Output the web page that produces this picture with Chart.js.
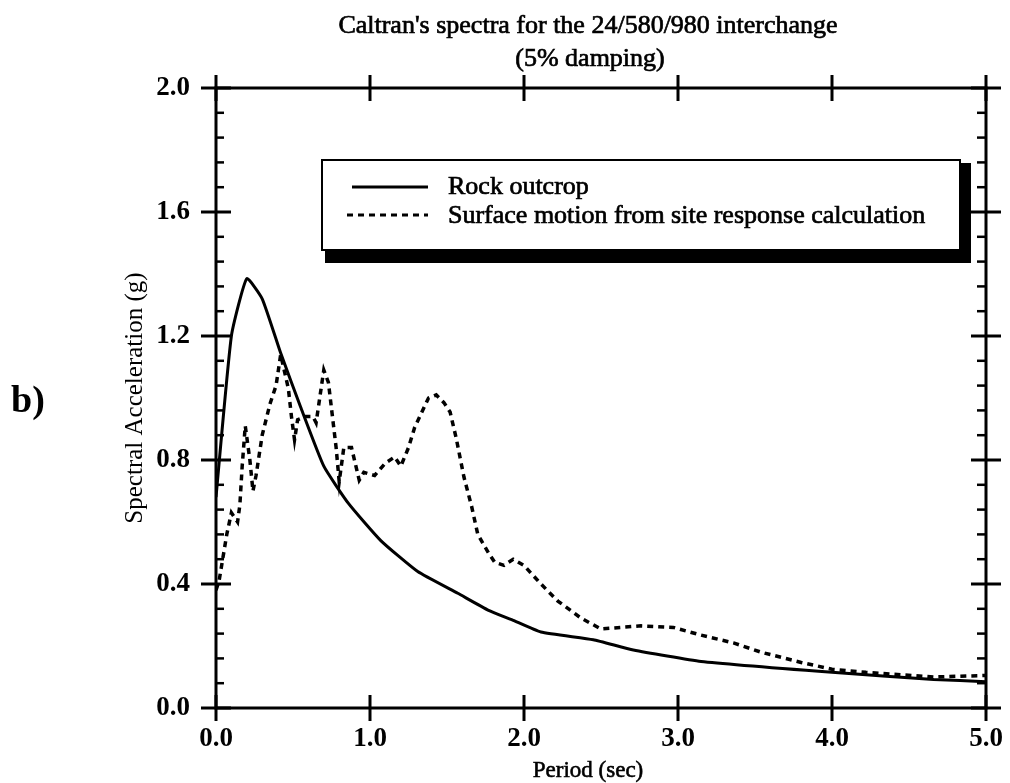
<!DOCTYPE html>
<html><head><meta charset="utf-8">
<script src="https://cdn.jsdelivr.net/npm/chart.js@4.4.0/dist/chart.umd.min.js"></script>
<style>html,body{margin:0;padding:0;background:#fff}canvas{display:block}</style>
</head><body>
<canvas id="c" width="1010" height="783"></canvas>
<script>
const titleLines = ["Caltran's spectra for the 24/580/980 interchange", "(5% damping)"];
const xTitle = "Period (sec)";
const yTitle = "Spectral Acceleration (g)";
const panelLabel = "b)";
const seriesNames = ["Rock outcrop", "Surface motion from site response calculation"];
const xTickValues = [0, 1, 2, 3, 4, 5];
const yTickValues = [0, 0.4, 0.8, 1.2, 1.6, 2.0];
const yMinorStep = 0.08;

const rockPeriods = [0, 0.1, 0.2, 0.3, 0.42, 0.55, 0.7, 0.86, 1.07, 1.31, 1.57, 1.77, 1.92, 2.11, 2.45, 2.71, 3.15, 4.0, 4.66, 5.0];
const rockSa      = [0.68, 1.2, 1.385, 1.32, 1.145, 0.97, 0.78, 0.66, 0.54, 0.44, 0.37, 0.315, 0.285, 0.245, 0.22, 0.187, 0.15, 0.115, 0.092, 0.085];

const surfPeriods = [0.0, 0.02, 0.07, 0.10, 0.14, 0.155, 0.17, 0.19, 0.22, 0.24, 0.26, 0.30, 0.35, 0.39, 0.42, 0.47, 0.49, 0.51, 0.53, 0.58, 0.63, 0.65, 0.70, 0.73, 0.78, 0.80, 0.83, 0.88, 0.93, 0.96, 1.03, 1.10, 1.16, 1.20, 1.25, 1.29, 1.38, 1.43, 1.48, 1.52, 1.56, 1.61, 1.66, 1.70, 1.77, 1.81, 1.87, 1.93, 2.0, 2.11, 2.22, 2.37, 2.5, 2.63, 2.76, 2.97, 3.15, 3.36, 3.54, 3.8, 4.0, 4.22, 4.66, 5.0];
const surfSa      = [0.38, 0.41, 0.56, 0.63, 0.60, 0.655, 0.78, 0.91, 0.80, 0.70, 0.75, 0.88, 0.98, 1.04, 1.14, 1.03, 0.94, 0.865, 0.93, 0.94, 0.94, 0.92, 1.09, 1.05, 0.84, 0.73, 0.84, 0.84, 0.735, 0.76, 0.75, 0.79, 0.81, 0.78, 0.84, 0.905, 1.0, 1.01, 0.985, 0.955, 0.87, 0.745, 0.65, 0.56, 0.50, 0.47, 0.46, 0.48, 0.46, 0.40, 0.345, 0.29, 0.255, 0.26, 0.265, 0.26, 0.235, 0.21, 0.18, 0.147, 0.125, 0.115, 0.10, 0.105];

const SERIF = "'Liberation Serif', 'DejaVu Serif', serif";

function line(ctx, x1, y1, x2, y2) { ctx.beginPath(); ctx.moveTo(x1, y1); ctx.lineTo(x2, y2); ctx.stroke(); }
function heavyText(ctx, t, x, y, w) { ctx.lineWidth = w; ctx.strokeText(t, x, y); ctx.fillText(t, x, y); }

const decor = {
  id: 'decor',
  beforeDraw(chart) {
    const c = chart.ctx; c.save(); c.fillStyle = '#fff'; c.fillRect(0, 0, chart.width, chart.height); c.restore();
  },
  afterDatasetsDraw(chart) {
    const { ctx, chartArea: a, scales: { x, y } } = chart;
    ctx.save();
    ctx.strokeStyle = '#000'; ctx.lineWidth = 3; ctx.lineCap = 'butt';
    ctx.beginPath(); ctx.rect(a.left, a.top, a.right - a.left, a.bottom - a.top); ctx.stroke();
    xTickValues.forEach(v => {
      const px = x.getPixelForValue(v);
      line(ctx, px, a.bottom - 13, px, a.bottom + 13);
      line(ctx, px, a.top - 13, px, a.top + 13);
    });
    yTickValues.forEach(v => {
      const py = y.getPixelForValue(v);
      line(ctx, a.left - 15, py, a.left + 15, py);
      line(ctx, a.right - 15, py, a.right + 15, py);
    });
    ctx.lineWidth = 2.5;
    const n = Math.round((y.max - y.min) / yMinorStep);
    for (let i = 1; i < n; i++) {
      if (i % 5 === 0) continue;
      const py = y.getPixelForValue(y.min + i * yMinorStep);
      line(ctx, a.left, py, a.left + 8, py);
      line(ctx, a.right - 9, py, a.right, py);
    }
    ctx.restore();
  },
  afterDraw(chart) {
    const { ctx } = chart;
    ctx.save();
    // legend box with shadow
    const bx = 322, by = 160, bw = 638, bh = 90;
    ctx.fillStyle = '#000';
    ctx.fillRect(bx + 3, by + 3, bw + 8, bh + 10);
    ctx.fillStyle = '#fff';
    ctx.fillRect(bx, by, bw, bh);
    ctx.strokeStyle = '#000'; ctx.lineWidth = 2;
    ctx.strokeRect(bx, by, bw, bh);
    const ds = chart.data.datasets;
    ctx.lineWidth = 3;
    ctx.setLineDash([]);
    line(ctx, 352, 187, 428, 187);
    ctx.setLineDash([6, 5]);
    line(ctx, 347, 215, 428, 215);
    ctx.setLineDash([]);
    ctx.fillStyle = '#000'; ctx.strokeStyle = '#000';
    ctx.font = "26px " + SERIF;
    ctx.textAlign = 'left'; ctx.textBaseline = 'alphabetic';
    heavyText(ctx, ds[0].label, 448, 194, 0.7);
    heavyText(ctx, ds[1].label, 448, 223, 0.7);
    // title
    ctx.textAlign = 'center';
    heavyText(ctx, titleLines[0], 588, 33, 0.7);
    heavyText(ctx, titleLines[1], 590, 66, 0.7);
    // x axis title
    ctx.font = "23px " + SERIF;
    heavyText(ctx, xTitle, 588, 777, 0.6);
    // panel label
    ctx.font = "bold 38px " + SERIF;
    ctx.textAlign = 'left'; ctx.textBaseline = 'middle';
    ctx.fillText(panelLabel, 11, 402);
    ctx.restore();
  }
};

new Chart(document.getElementById('c'), {
  type: 'line',
  data: {
    datasets: [
      {
        label: seriesNames[0],
        data: rockPeriods.map((p, i) => ({ x: p, y: rockSa[i] })),
        borderColor: '#000', borderWidth: 3, pointRadius: 0,
        tension: 0.15, fill: false
      },
      {
        label: seriesNames[1],
        data: surfPeriods.map((p, i) => ({ x: p, y: surfSa[i] })),
        borderColor: '#000', borderWidth: 3.5, borderDash: [6, 5], pointRadius: 0,
        tension: 0, fill: false
      }
    ]
  },
  options: {
    responsive: false, animation: false, devicePixelRatio: 1,
    layout: { padding: { top: 88, right: 24, left: 0, bottom: 0 } },
    plugins: { legend: { display: false }, title: { display: false }, tooltip: { enabled: false } },
    scales: {
      x: {
        type: 'linear', position: 'bottom', min: 0, max: 5,
        afterBuildTicks: s => { s.ticks = xTickValues.map(v => ({ value: v })); },
        afterFit: s => { s.height = 75; s.paddingLeft = 0; s.paddingRight = 0; },
        ticks: {
          callback: v => Number(v).toFixed(1), color: '#000', padding: 15,
          maxRotation: 0, autoSkip: false,
          font: { family: SERIF, size: 27, weight: 'bold' }
        },
        grid: { display: false, drawTicks: false },
        border: { display: false },
        title: { display: false, text: xTitle }
      },
      y: {
        type: 'linear', position: 'left', min: 0, max: 2,
        afterBuildTicks: s => { s.ticks = yTickValues.map(v => ({ value: v })); },
        afterFit: s => { s.width = 216; s.paddingTop = 0; s.paddingBottom = 0; },
        ticks: {
          callback: v => Number(v).toFixed(1), color: '#000', padding: 26,
          font: { family: SERIF, size: 27, weight: 'bold' }
        },
        grid: { display: false, drawTicks: false },
        border: { display: false },
        title: {
          display: true, text: yTitle, color: '#000',
          font: { family: SERIF, size: 25 }, padding: { top: 120, bottom: 0 }
        }
      }
    }
  },
  plugins: [decor]
});
</script>
</body></html>
